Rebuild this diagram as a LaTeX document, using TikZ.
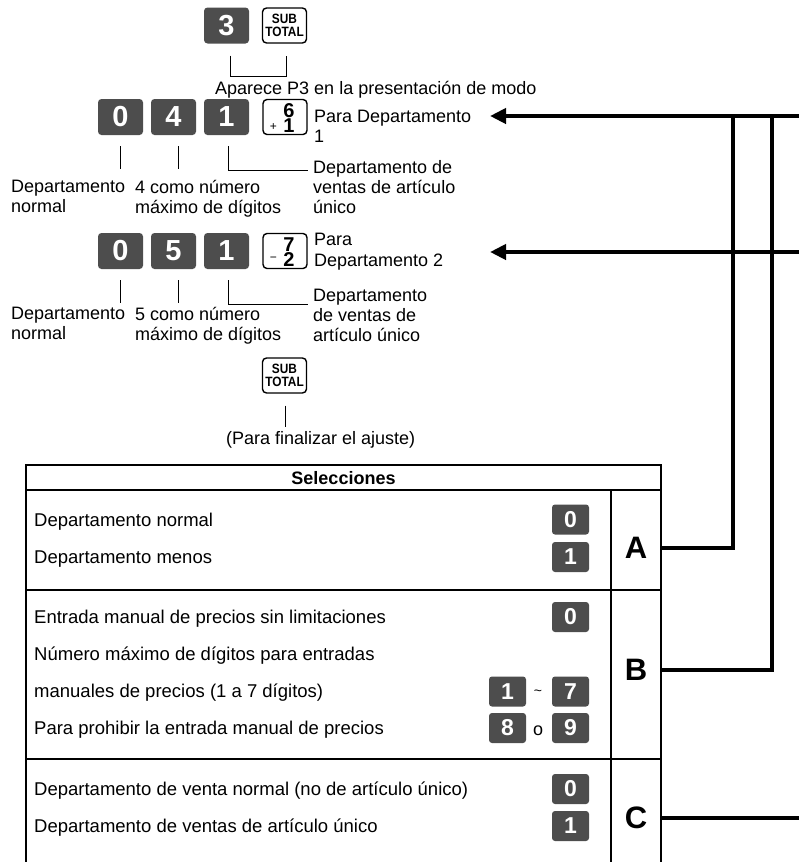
\documentclass[tikz,border=0pt]{standalone}
\usepackage{fontspec}
\setmainfont{Liberation Sans}
\newfontfamily\subfont{Liberation Sans}[FakeStretch=0.88]
\usetikzlibrary{arrows.meta}
\definecolor{keygray}{RGB}{77,77,77}
\begin{document}
\begin{tikzpicture}[x=1pt,y=-1pt,
  txt/.style={font=\fontsize{18}{20}\selectfont, inner sep=0, align=left, anchor=north west},
  tbl/.style={font=\fontsize{18.5}{21}\selectfont, inner sep=0, anchor=base west},
  dkey/.style={fill=keygray, rounded corners=3.5pt, minimum width=45pt, minimum height=36pt, inner sep=0, text=white, font=\bfseries\fontsize{29}{29}\selectfont},
  tkey/.style={fill=keygray, rounded corners=3pt, minimum width=37pt, minimum height=30pt, inner sep=0, text=white, font=\bfseries\fontsize{23}{23}\selectfont},
  wkey/.style={draw=black, line width=1.4pt, fill=white, rounded corners=4pt, minimum width=44pt, minimum height=35pt, inner sep=0},
  subtxt/.style={font=\subfont\bfseries\fontsize{13.5}{12.5}\selectfont, align=center, inner sep=0},
  pdig/.style={font=\bfseries\fontsize{20}{14.5}\selectfont, align=center, inner sep=0},
  psgn/.style={font=\fontsize{12}{12}\selectfont, inner sep=0},
  letter/.style={font=\bfseries\fontsize{31}{31}\selectfont, inner sep=0},
  tick/.style={line width=0.9pt},
  grid/.style={line width=1.4pt},
  conn/.style={line width=4.6pt},
  arr/.style={-{Triangle[length=16pt,width=15pt]}}
]
\useasboundingbox (0,0) rectangle (799,862);

% ---- top: 3 SUBTOTAL
\node[dkey] (k3) at (226.5,25.5) {3};
\node[wkey] (st1) at (284.5,25.5) {};
\node[subtxt] (st1t) at (st1.center) {SUB\\TOTAL};
\draw[tick] ([xshift=3.5pt,yshift=-12pt]k3.south) -- ++(0,21) -| ([xshift=1.5pt,yshift=-12pt]st1.south);
\node[font=\fontsize{18}{20}\selectfont, inner sep=0, anchor=base west] (ap) at (215,94) {Aparece P3 en la presentación de modo};

% ---- row 1
\node[dkey] (k0a) at (120.5,117) {0};
\node[dkey] (k4a) at (173.5,117) {4};
\node[dkey] (k1a) at (226.5,117) {1};
\node[wkey] (pd6) at (285,117) {};
\node[pdig] (pd6a) at (289,118) {6\\1};
\node[psgn] (pd6c) at (273.5,127) {+};
\node[txt] (pdt1) at (314,109.5) {Para Departamento\\1};
\draw[tick] ([xshift=-0.5pt,yshift=-11pt]k0a.south) -- ++(0,23);
\draw[tick] ([xshift=4.5pt,yshift=-11pt]k4a.south) -- ++(0,23);
\coordinate (b1end) at (308,170);
\draw[tick] ([xshift=1.5pt,yshift=-11pt]k1a.south) |- (b1end);
\node[txt] (dn1) at (11,179.5) {Departamento\\normal};
\node[txt] (mx1) at (135,180.5) {4 como número\\máximo de dígitos};
\node[txt] (du1) at (313,160.5) {Departamento de\\ventas de artículo\\único};

% ---- row 2
\node[dkey] (k0b) at (120.5,251) {0};
\node[dkey] (k5b) at (173.5,251) {5};
\node[dkey] (k1b) at (226.5,251) {1};
\node[wkey] (pd7) at (285,251) {};
\node[pdig] (pd7a) at (289,252) {7\\2};
\node[psgn] (pd7c) at (273.5,259) {\textminus};
\node[txt] (pdt2) at (314,232.5) {Para\\[1pt]Departamento 2};
\draw[tick] ([xshift=-0.5pt,yshift=-11pt]k0b.south) -- ++(0,23);
\draw[tick] ([xshift=4.5pt,yshift=-11pt]k5b.south) -- ++(0,23);
\coordinate (b2end) at (308,304);
\draw[tick] ([xshift=1.5pt,yshift=-11pt]k1b.south) |- (b2end);
\node[txt] (dn2) at (11,306.5) {Departamento\\normal};
\node[txt] (mx2) at (135,307.5) {5 como número\\máximo de dígitos};
\node[txt] (du2) at (313,288.5) {Departamento\\de ventas de\\artículo único};

% ---- final subtotal
\node[wkey] (st3) at (284.5,375.5) {};
\node[subtxt] (st3t) at (st3.center) {SUB\\TOTAL};
\draw[tick] ([xshift=0.5pt,yshift=-12pt]st3.south) -- ++(0,21);
\node[font=\fontsize{18}{20}\selectfont, inner sep=0, anchor=base west] (fin) at (226,444) {(Para finalizar el ajuste)};

% ---- table
\draw[grid] (26,862) -- (26,465) -- (661,465) -- (661,862);
\draw[grid] (26,490) -- (661,490);
\draw[grid] (611,490) -- (611,862);
\draw[grid] (26,590) -- (661,590);
\draw[grid] (26,759) -- (661,759);
\node[font=\bfseries\fontsize{18}{20}\selectfont, inner sep=0] (sel) at (343.5,478) {Selecciones};

\node[tbl] (ta1) at (34,526.6) {Departamento normal};
\node[tkey] (ka0) at (570.5,519.5) {0};
\node[tbl] (ta2) at (34,563.6) {Departamento menos};
\node[tkey] (ka1) at (570.5,557) {1};
\node[letter] (letA) at (636,548) {A};

\node[tbl] (tb1) at (34,623.6) {Entrada manual de precios sin limitaciones};
\node[tkey] (kb0) at (570.5,617) {0};
\node[tbl] (tb2) at (34,660.6) {Número máximo de dígitos para entradas};
\node[tbl] (tb3) at (34,697.6) {manuales de precios (1 a 7 dígitos)};
\node[tkey] (kb1) at (507.5,691.5) {1};
\node[font=\fontsize{14}{14}\selectfont, inner sep=0] (tilde) at (538,693) {\char`\~};
\node[tkey] (kb7) at (570.5,691.5) {7};
\node[tbl] (tb4) at (34,734.6) {Para prohibir la entrada manual de precios};
\node[tkey] (kb8) at (507.5,728) {8};
\node[font=\fontsize{18}{18}\selectfont, inner sep=0] (oo) at (538,731) {o};
\node[tkey] (kb9) at (570.5,728) {9};
\node[letter] (letB) at (636,670) {B};

\node[tbl] (tc1) at (34,795.6) {Departamento de venta normal (no de artículo único)};
\node[tkey] (kc0) at (570.5,789) {0};
\node[tbl] (tc2) at (34,832.6) {Departamento de ventas de artículo único};
\node[tkey] (kc1) at (570.5,826) {1};
\node[letter] (letC) at (636,818) {C};

% ---- connectors
\coordinate (tip1) at (490,116);
\coordinate (edge1) at (799,116);
\coordinate (tip2) at (490,252);
\coordinate (edge2) at (799,252);
\coordinate (aOut) at (661,548);
\coordinate (aTop) at (733,116);
\coordinate (bOut) at (661,670);
\coordinate (bTop) at (772,116);
\coordinate (cOut) at (661,818);
\coordinate (cEnd) at (799,818);
\draw[conn,arr] (edge1) -- (tip1);
\draw[conn,arr] (edge2) -- (tip2);
\draw[conn] (aOut) -| ([yshift=2.3pt]aTop);
\draw[conn] (bOut) -| ([yshift=2.3pt]bTop);
\draw[conn] (cOut) -- (cEnd);
\end{tikzpicture}
\end{document}
